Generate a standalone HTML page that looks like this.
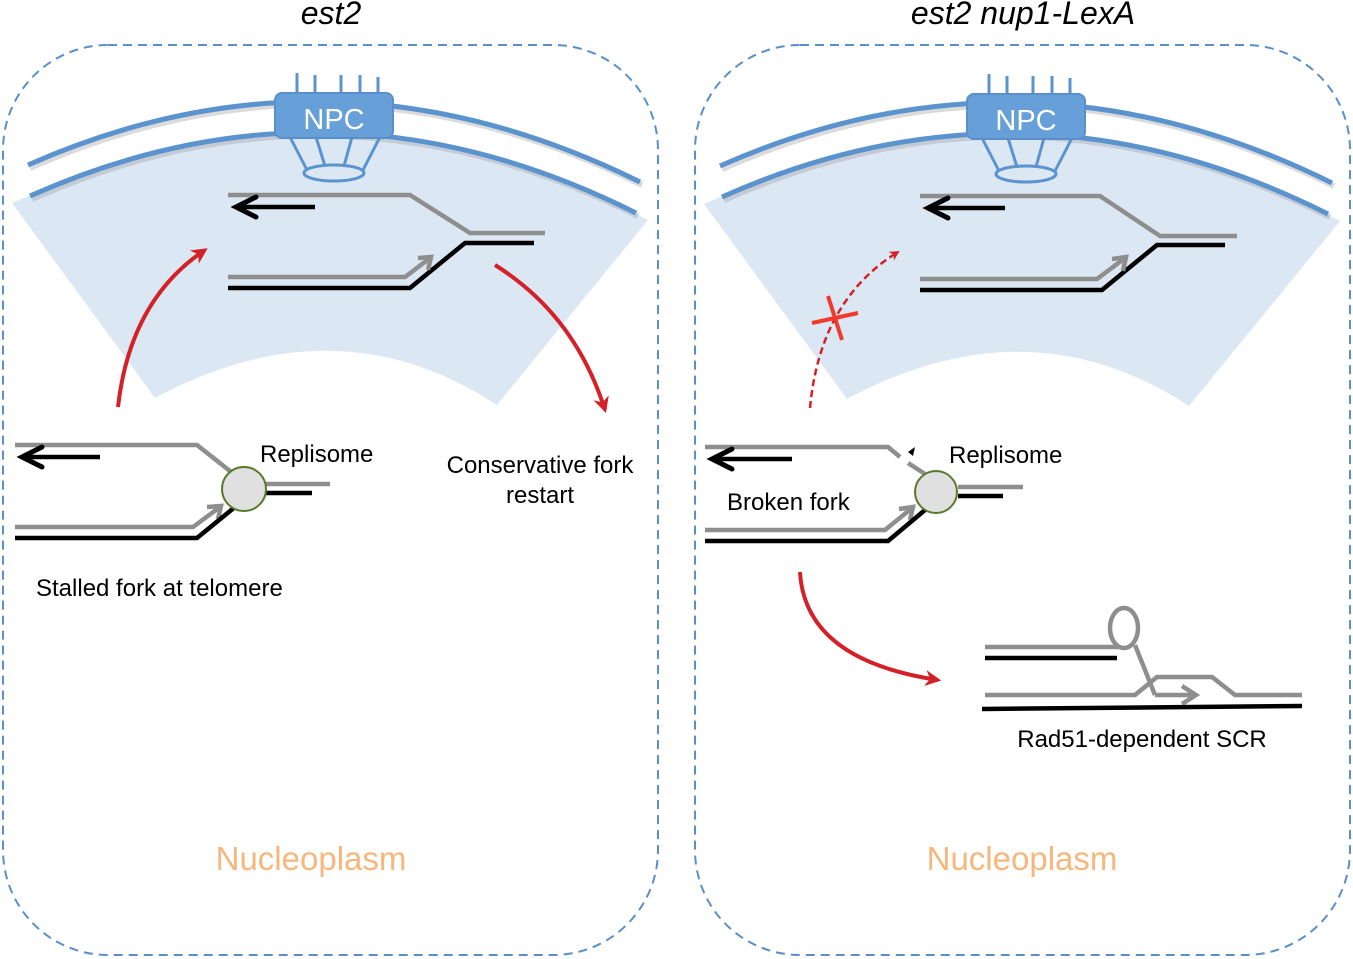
<!DOCTYPE html>
<html><head><meta charset="utf-8"><style>
html,body{margin:0;padding:0;background:#fff;}
svg{display:block;font-family:"Liberation Sans",Arial,sans-serif;}
</style></head><body>
<svg width="1353" height="959" viewBox="0 0 1353 959" xmlns="http://www.w3.org/2000/svg">
<defs>
<marker id="ah" viewBox="0 0 10 10" refX="8" refY="5" markerWidth="4" markerHeight="4" orient="auto"><path d="M0,0 L10,5 L0,10 L3,5 z" fill="#d42127"/></marker>
<g id="cell">
 <path d="M12,203 Q333,60 648,220 L497,405 Q337,300 155,398 Z" fill="#dce7f4"/>
 <path d="M28,165 Q333,30 640,182" fill="none" stroke="#999" stroke-width="6" opacity="0.35" transform="translate(2,3)"/>
 <path d="M28,165 Q333,30 640,182" fill="none" stroke="#5b93cf" stroke-width="5"/>
 <path d="M30,196 Q333,61 636,213" fill="none" stroke="#999" stroke-width="6" opacity="0.35" transform="translate(2,3)"/>
 <path d="M30,196 Q333,61 636,213" fill="none" stroke="#5b93cf" stroke-width="5"/>
 <g stroke="#5b93cf" stroke-width="3">
  <line x1="297" y1="73" x2="297" y2="95"/><line x1="315" y1="75" x2="315" y2="95"/><line x1="341" y1="75" x2="341" y2="95"/><line x1="360" y1="75" x2="360" y2="95"/><line x1="378" y1="77" x2="378" y2="95"/>
  <line x1="290" y1="137" x2="308" y2="172"/><line x1="316" y1="137" x2="325" y2="166"/><line x1="352" y1="137" x2="344" y2="166"/><line x1="380" y1="137" x2="362" y2="172"/>
  <ellipse cx="334" cy="173" rx="30" ry="8" fill="#dce7f4"/>
 </g>
 <rect x="275" y="93" width="118" height="45" rx="7" fill="#679fd9" stroke="#5b8fc9" stroke-width="2"/>
 <text x="334" y="129" font-size="29" fill="#fff" text-anchor="middle">NPC</text>
</g>
</defs>
<rect x="3" y="45" width="655" height="910" rx="105" fill="none" stroke="#5b8fc9" stroke-width="2" stroke-dasharray="9,6"/>
<rect x="695" y="45" width="655" height="910" rx="105" fill="none" stroke="#5b8fc9" stroke-width="2" stroke-dasharray="9,6"/>
<use href="#cell"/>
<use href="#cell" transform="translate(692,1)"/>
<text x="311" y="870" font-size="33" fill="#f7b77c" text-anchor="middle">Nucleoplasm</text>
<text x="1022" y="870" font-size="33" fill="#f7b77c" text-anchor="middle">Nucleoplasm</text>
<text x="331" y="24" font-size="32" font-style="italic" text-anchor="middle">est2</text>
<text x="1023" y="24" font-size="32" font-style="italic" text-anchor="middle">est2 nup1-LexA</text>

<!-- left top fork -->
<g fill="none" stroke-width="4.5" stroke-linecap="butt">
<polyline points="228,195 410,195 470,233 545,233" stroke="#8e8e8e"/>
<polyline points="228,288 410,288 465,243 534,243" stroke="#000"/>
<polyline points="228,277 405,277 430,258" stroke="#8e8e8e"/>
<polyline points="418,258 431,257 428,270" stroke="#8e8e8e"/>
<line x1="315" y1="207" x2="236" y2="207" stroke="#000"/>
<polyline points="256,197 236,207 256,217" stroke="#000" stroke-width="5" stroke-linecap="round"/>
</g>
<path d="M118,407 Q130,300 205,250" fill="none" stroke="#d42127" stroke-width="4" marker-end="url(#ah)"/>
<path d="M495,265 Q575,315 605,410" fill="none" stroke="#d42127" stroke-width="4" marker-end="url(#ah)"/>

<!-- stalled fork -->
<g fill="none" stroke-width="4.5">
<polyline points="15,445 197,445 235,475" stroke="#8e8e8e"/>
<line x1="265" y1="484" x2="330" y2="484" stroke="#8e8e8e"/>
<line x1="265" y1="493" x2="312" y2="493" stroke="#000"/>
<polyline points="15,527 193,527 220,507" stroke="#8e8e8e"/>
<polyline points="207,507 221,506 218,519" stroke="#8e8e8e"/>
<polyline points="15,538 197,538 235,507" stroke="#000"/>
<line x1="100" y1="457" x2="22" y2="457" stroke="#000"/>
<polyline points="42,447 22,457 42,467" stroke="#000" stroke-width="5" stroke-linecap="round"/>
</g>
<circle cx="244" cy="489" r="22" fill="#e0e0e0" stroke="#5a7a2a" stroke-width="2"/>
<text x="260" y="462" font-size="24">Replisome</text>
<text x="540" y="473" font-size="24" text-anchor="middle">Conservative fork</text>
<text x="540" y="503" font-size="24" text-anchor="middle">restart</text>
<text x="36" y="596" font-size="24">Stalled fork at telomere</text>

<!-- right top fork -->
<g fill="none" stroke-width="4.5">
<polyline points="920,196 1100,196 1160,236 1237,236" stroke="#8e8e8e"/>
<polyline points="920,290 1102,290 1157,245 1225,245" stroke="#000"/>
<polyline points="920,279 1097,279 1125,258" stroke="#8e8e8e"/>
<polyline points="1112,259 1126,257 1123,271" stroke="#8e8e8e"/>
<line x1="1005" y1="208" x2="928" y2="208" stroke="#000"/>
<polyline points="948,198 928,208 948,218" stroke="#000" stroke-width="5" stroke-linecap="round"/>
</g>
<path d="M810,408 Q820,300 898,252" fill="none" stroke="#d42127" stroke-width="2.5" stroke-dasharray="7,4" marker-end="url(#ah)"/>
<g stroke="#ef3a2c" stroke-width="4"><line x1="812" y1="323" x2="858" y2="313"/><line x1="828" y1="296" x2="842" y2="340"/></g>

<!-- broken fork -->
<g fill="none" stroke-width="4.5">
<polyline points="705,447 888,447 900,457" stroke="#8e8e8e"/>
<line x1="908" y1="463" x2="925" y2="474" stroke="#8e8e8e"/>
<line x1="958" y1="487" x2="1023" y2="487" stroke="#8e8e8e"/>
<line x1="958" y1="496" x2="1003" y2="496" stroke="#000"/>
<polyline points="705,530 885,530 912,508" stroke="#8e8e8e"/>
<polyline points="899,509 913,507 910,520" stroke="#8e8e8e"/>
<polyline points="705,541 888,541 925,510" stroke="#000"/>
<line x1="792" y1="459" x2="712" y2="459" stroke="#000"/>
<polyline points="732,449 712,459 732,469" stroke="#000" stroke-width="5" stroke-linecap="round"/>
</g>
<path d="M908,452 L915,447 L913,456 Z" fill="#000"/>
<circle cx="936" cy="492" r="21" fill="#e0e0e0" stroke="#5a7a2a" stroke-width="2"/>
<text x="949" y="463" font-size="24">Replisome</text>
<text x="727" y="510" font-size="24">Broken fork</text>
<path d="M800,572 Q805,660 938,680" fill="none" stroke="#d42127" stroke-width="4" marker-end="url(#ah)"/>

<!-- SCR -->
<g fill="none" stroke-width="4.5">
<line x1="985" y1="647" x2="1120" y2="647" stroke="#8e8e8e"/>
<ellipse cx="1124" cy="628" rx="14" ry="20" stroke="#8e8e8e"/>
<line x1="1135" y1="645" x2="1155" y2="695" stroke="#8e8e8e"/>
<line x1="985" y1="658" x2="1117" y2="658" stroke="#000"/>
<polyline points="985,695 1135,695 1157,677 1212,677 1235,695 1302,695" stroke="#8e8e8e"/>
<line x1="1155" y1="695" x2="1195" y2="695" stroke="#8e8e8e"/>
<polyline points="1182,686 1196,695 1182,704" stroke="#8e8e8e"/>
<line x1="982" y1="709" x2="1302" y2="706" stroke="#000"/>
</g>
<text x="1142" y="747" font-size="24" text-anchor="middle">Rad51-dependent SCR</text>
</svg>
</body></html>
